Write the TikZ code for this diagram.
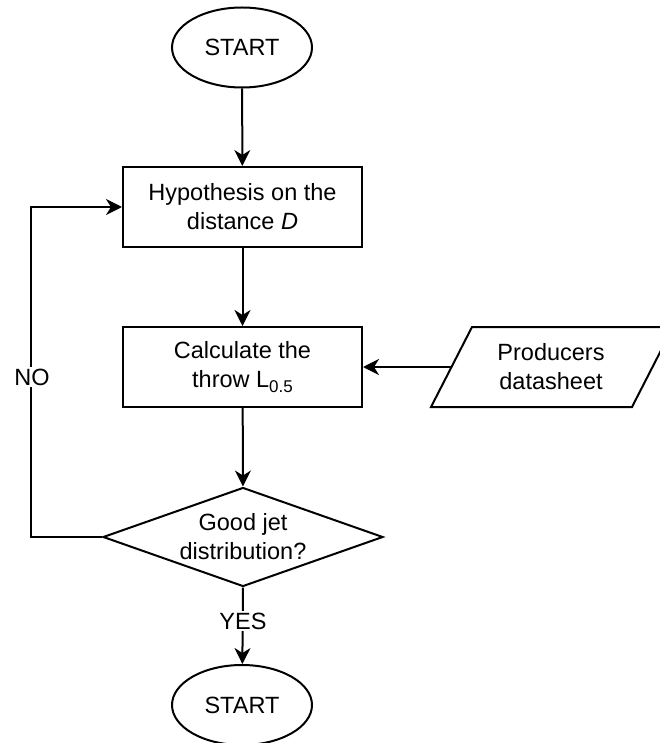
\documentclass[tikz,border=0pt]{standalone}
\usepackage{fontspec}
\setmainfont{Liberation Sans}
\usetikzlibrary{shapes.geometric,arrows.meta}
\tikzset{
  base/.style={draw=black, line width=2pt, font=\fontsize{23.5}{29}\selectfont, align=center, inner sep=0pt},
  term/.style={base, ellipse, minimum width=140pt, minimum height=80pt},
  proc/.style={base, rectangle, minimum width=239pt, minimum height=80pt},
  dec/.style={base, diamond, minimum width=280pt, minimum height=99pt},
  txt/.style={font=\fontsize{23.5}{29}\selectfont, align=center, inner sep=1pt},
  lbl/.style={txt, fill=white, inner sep=2pt},
  conn/.style={line width=2pt, -{Stealth[length=16pt, width=16pt, inset=5pt]}},
}
\newcommand{\mysub}[1]{\raisebox{-5.5pt}{\fontsize{17}{17}\selectfont #1}}
\begin{document}
\begin{tikzpicture}[x=1pt, y=-1pt]
\useasboundingbox (0,0) rectangle (660,743);
\clip (0,0) rectangle (660,743);
\node[term] (s1) at (242,47.5) {START};
\node[proc] (b1) at (242.5,207) {Hypothesis on the\\distance \textit{D}};
\node[proc] (b2) at (242.5,367) {Calculate the\\throw L\mysub{0.5}};
\node[dec] (d) at (243,537) {};
\node[txt] (dt) at (d) {Good jet\\distribution?};
\node[term] (s2) at (242,705) {START};
% parallelogram
\draw[line width=2pt, line join=miter] (431,407) -- (472,327) -- (673,327) -- (632,407) -- cycle;
\coordinate (pl) at (451.5,367);
\node[txt] (p) at (551,367) {Producers\\datasheet};
% connectors
\draw[conn] (s1) -- (b1);
\draw[conn] (b1) -- (b2);
\draw[conn] (pl) -- (b2.east);
\draw[conn] (b2) -- (d.north);
\draw[conn] (d.south) -- (s2);
\draw[conn] (d.west) -- ++(-71,0) |- (b1.west);
\node[lbl] (no) at (32,377) {NO};
\node[lbl] (yes) at (243,621) {YES};
\end{tikzpicture}
\end{document}
